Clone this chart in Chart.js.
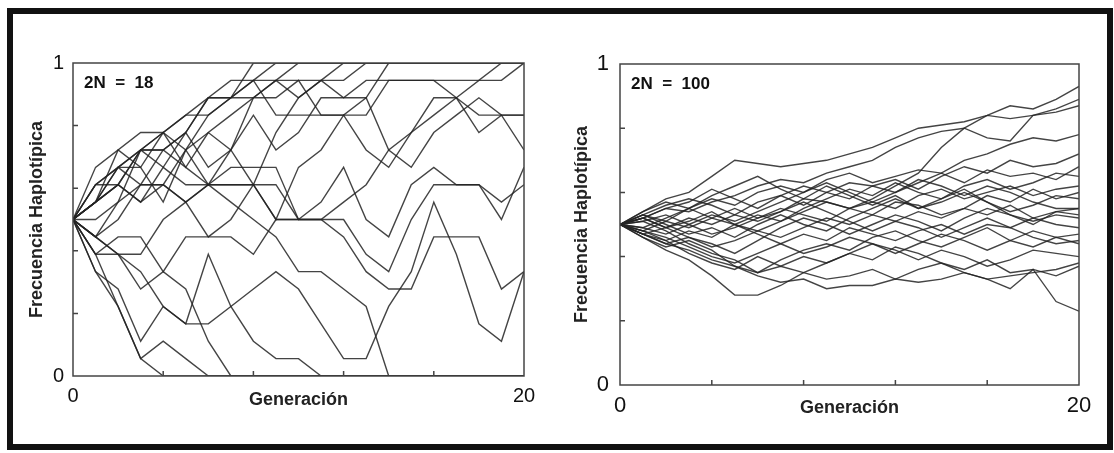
<!DOCTYPE html>
<html>
<head>
<meta charset="utf-8">
<script src="https://cdn.jsdelivr.net/npm/chart.js@4.4.1/dist/chart.umd.min.js"></script>
<style>
body { margin: 0; background: #fff; width: 1114px; height: 453px; overflow: hidden; position: relative; }
#frame { position: absolute; left: 7px; top: 8px; width: 1106px; height: 442px; box-sizing: border-box; border: 6px solid #111; }
#c1 { position: absolute; left: 14px; top: 20px; }
#c2 { position: absolute; left: 560px; top: 20px; }
</style>
</head>
<body>
<div id="frame"></div>
<canvas id="c1" width="540" height="420"></canvas>
<canvas id="c2" width="548" height="425"></canvas>
<script>
var FONT = "'Liberation Sans', Arial, sans-serif";

var generations = [0, 1, 2, 3, 4, 5, 6, 7, 8, 9, 10, 11, 12, 13, 14, 15, 16, 17, 18, 19, 20];
var xTickLabels = ["0", "20"];
var yTickLabels = ["0", "1"];
var minorX = [4, 8, 12, 16];
var minorY18 = [3.6, 7.2, 10.8, 14.4];   // 0.2 .. 0.8 of 2N = 18
var minorY100 = [20, 40, 60, 80];

// haplotype copies out of 2N = 18, one row per replicate
var runs18 = [
  [9, 11, 12, 13, 14, 15, 15, 16, 18, 18, 18, 18, 18, 18, 18, 18, 18, 18, 18, 18, 18],
  [9, 10, 11, 13, 13, 14, 16, 16, 17, 18, 18, 18, 18, 18, 18, 18, 18, 18, 18, 18, 18],
  [9, 12, 13, 12, 14, 12, 14, 15, 16, 17, 18, 18, 18, 18, 18, 18, 18, 18, 18, 18, 18],
  [9, 10, 13, 14, 14, 15, 16, 16, 16, 17, 16, 17, 18, 18, 18, 18, 18, 18, 18, 18, 18],
  [9, 10, 12, 12, 10, 13, 15, 16, 17, 17, 17, 17, 17, 18, 18, 18, 18, 18, 18, 18, 18],
  [9, 11, 11, 13, 14, 13, 11, 13, 16, 16, 17, 15, 15, 16, 18, 18, 18, 18, 18, 18, 18],
  [9, 8, 10, 11, 13, 14, 16, 17, 17, 15, 15, 15, 15, 15, 17, 17, 17, 17, 17, 18, 18],
  [9, 10, 11, 10, 12, 11, 11, 11, 11, 9, 9, 9, 10, 11, 13, 14, 15, 16, 17, 17, 18],
  [9, 11, 12, 13, 12, 14, 12, 13, 11, 14, 16, 17, 16, 16, 13, 12, 14, 15, 16, 15, 15],
  [9, 10, 12, 11, 11, 13, 14, 13, 15, 13, 14, 16, 16, 17, 17, 17, 17, 16, 15, 15, 15],
  [9, 8, 9, 11, 11, 10, 11, 11, 11, 9, 12, 13, 15, 13, 12, 14, 16, 16, 14, 15, 13],
  [9, 9, 10, 13, 13, 12, 11, 12, 12, 12, 9, 10, 12, 9, 8, 11, 12, 11, 11, 9, 12],
  [9, 8, 7, 7, 9, 10, 8, 9, 11, 11, 9, 9, 9, 7, 6, 9, 11, 11, 11, 10, 11],
  [9, 8, 7, 6, 4, 3, 3, 4, 5, 6, 5, 3, 1, 1, 4, 6, 10, 7, 3, 2, 6],
  [9, 7, 8, 8, 6, 8, 8, 8, 7, 9, 9, 9, 8, 6, 5, 5, 8, 8, 8, 5, 6],
  [9, 6, 4, 1, 0, 0, 0, 0, 0, 0, 0, 0, 0, 0, 0, 0, 0, 0, 0, 0, 0],
  [9, 7, 4, 1, 2, 1, 0, 0, 0, 0, 0, 0, 0, 0, 0, 0, 0, 0, 0, 0, 0],
  [9, 7, 7, 5, 6, 5, 2, 0, 0, 0, 0, 0, 0, 0, 0, 0, 0, 0, 0, 0, 0],
  [9, 6, 5, 2, 4, 3, 7, 4, 2, 1, 1, 0, 0, 0, 0, 0, 0, 0, 0, 0, 0],
  [9, 10, 11, 10, 11, 10, 11, 10, 9, 8, 6, 6, 5, 4, 0, 0, 0, 0, 0, 0, 0]
];

// haplotype copies out of 2N = 100
var runs100 = [
  [50, 54, 58, 60, 65, 70, 69, 68, 69, 70, 72, 74, 77, 80, 81, 82, 84, 87, 86, 89, 93],
  [50, 52, 55, 54, 57, 59, 62, 64, 63, 66, 68, 70, 74, 77, 79, 80, 77, 76, 84, 86, 89],
  [50, 48, 51, 49, 52, 55, 52, 54, 58, 57, 55, 58, 62, 66, 74, 80, 84, 83, 84, 85, 87],
  [50, 53, 51, 55, 58, 56, 60, 62, 60, 64, 66, 63, 65, 67, 66, 70, 72, 75, 77, 76, 78],
  [50, 47, 49, 52, 50, 53, 57, 59, 56, 60, 63, 62, 64, 61, 65, 68, 66, 70, 68, 69, 72],
  [50, 52, 55, 57, 61, 58, 55, 59, 62, 60, 58, 62, 60, 63, 66, 63, 67, 65, 66, 64, 68],
  [50, 48, 45, 48, 46, 50, 53, 51, 55, 58, 61, 59, 63, 60, 58, 62, 64, 61, 63, 66, 65],
  [50, 51, 53, 50, 47, 49, 52, 55, 53, 51, 55, 57, 55, 59, 61, 58, 60, 62, 59, 61, 62],
  [50, 49, 52, 55, 52, 50, 48, 51, 54, 57, 55, 53, 57, 56, 53, 55, 59, 57, 61, 58, 60],
  [50, 53, 50, 47, 49, 46, 50, 53, 50, 48, 52, 55, 58, 55, 57, 60, 57, 54, 56, 59, 58],
  [50, 47, 44, 46, 43, 45, 48, 46, 49, 52, 50, 53, 51, 54, 52, 55, 53, 56, 52, 54, 55],
  [50, 52, 49, 46, 44, 41, 45, 49, 52, 50, 47, 50, 53, 51, 48, 52, 55, 53, 51, 53, 52],
  [50, 48, 46, 43, 40, 38, 41, 44, 47, 45, 49, 47, 45, 48, 50, 47, 50, 49, 52, 50, 49],
  [50, 46, 43, 45, 42, 37, 35, 39, 42, 44, 42, 46, 48, 45, 43, 46, 49, 45, 48, 46, 47],
  [50, 52, 49, 51, 54, 50, 47, 44, 41, 43, 46, 44, 41, 44, 47, 45, 42, 45, 43, 46, 44],
  [50, 47, 45, 41, 38, 36, 40, 37, 40, 38, 41, 44, 42, 39, 42, 40, 37, 39, 42, 41, 40],
  [50, 46, 42, 39, 34, 28, 28, 31, 35, 38, 41, 39, 43, 41, 38, 36, 39, 35, 36, 34, 37],
  [50, 47, 44, 42, 39, 37, 34, 32, 33, 30, 31, 31, 33, 32, 33, 35, 33, 30, 36, 26, 23],
  [50, 51, 48, 44, 41, 39, 35, 37, 35, 33, 34, 36, 33, 36, 38, 35, 33, 34, 35, 36, 38],
  [50, 54, 57, 55, 59, 62, 65, 61, 58, 62, 59, 56, 59, 55, 58, 61, 57, 53, 50, 54, 53],
  [50, 53, 56, 58, 56, 53, 51, 54, 57, 54, 51, 48, 51, 49, 46, 49, 52, 49, 46, 44, 45],
  [50, 49, 47, 50, 53, 51, 54, 57, 60, 63, 60, 57, 60, 64, 62, 59, 62, 60, 57, 55, 55]
];

// box round the plot, inner ticks and the 2N label
var panelPlugin = {
  id: "panel",
  afterDatasetsDraw: function (chart, args, opts) {
    var a = chart.chartArea, c = chart.ctx;
    var xs = chart.scales.x, ys = chart.scales.y;
    c.save();
    c.strokeStyle = "#444";
    c.lineWidth = 1.5;
    c.strokeRect(a.left, a.top, a.right - a.left, a.bottom - a.top);
    c.beginPath();
    opts.minorX.forEach(function (v) {
      var px = xs.getPixelForValue(v);
      c.moveTo(px, a.bottom);
      c.lineTo(px, a.bottom - 5);
    });
    opts.minorY.forEach(function (v) {
      var py = ys.getPixelForValue(v);
      c.moveTo(a.left, py);
      c.lineTo(a.left + 5, py);
    });
    c.stroke();
    c.fillStyle = "#111";
    c.font = "bold 17px " + FONT;
    c.textBaseline = "alphabetic";
    c.fillText(opts.label, a.left + 11, a.top + 25);
    c.restore();
  }
};

function driftChart(id, runs, size, o) {
  var ctx = document.getElementById(id).getContext("2d");
  return new Chart(ctx, {
    type: "line",
    data: {
      labels: generations,
      datasets: runs.map(function (r) {
        return {
          data: r,
          fill: false,
          borderColor: "rgba(35,35,35,0.85)",
          borderWidth: 1.4,
          pointRadius: 0,
          tension: 0
        };
      })
    },
    options: {
      responsive: false,
      animation: false,
      events: [],
      layout: { padding: { left: 0, top: o.top, right: o.right, bottom: 0 } },
      plugins: {
        legend: { display: false },
        tooltip: { enabled: false },
        panel: { minorX: minorX, minorY: o.minorY, label: o.label }
      },
      scales: {
        x: {
          type: "linear",
          min: 0,
          max: 20,
          grid: { display: false, drawTicks: false },
          border: { display: false },
          afterBuildTicks: function (s) { s.ticks = [{ value: 0 }, { value: 20 }]; },
          afterFit: function (s) { s.height = o.xh; },
          ticks: {
            padding: o.xPad,
            maxRotation: 0,
            color: "#111",
            font: { family: FONT, size: o.numSize },
            callback: function (v, i) { return xTickLabels[i]; }
          },
          title: {
            display: true,
            text: "Generación",
            color: "#222",
            font: { family: FONT, size: 18, weight: "bold" },
            padding: { top: 0, bottom: o.xTitlePad }
          }
        },
        y: {
          min: 0,
          max: size,
          grid: { display: false, drawTicks: false },
          border: { display: false },
          afterBuildTicks: function (s) { s.ticks = [{ value: 0 }, { value: size }]; },
          afterFit: function (s) { s.width = o.yw; },
          ticks: {
            padding: o.yPad,
            color: "#111",
            font: { family: FONT, size: o.numSize },
            callback: function (v, i) { return yTickLabels[i]; }
          },
          title: {
            display: true,
            text: "Frecuencia Haplotípica",
            color: "#222",
            font: { family: FONT, size: 18, weight: "bold" },
            padding: { top: o.yTitlePad, bottom: 0 }
          }
        }
      }
    },
    plugins: [panelPlugin]
  });
}

var chartLeft = driftChart("c1", runs18, 18, {
  top: 43, right: 30, yw: 59, xh: 64, xPad: 8, yPad: 9, numSize: 20,
  xTitlePad: 29, yTitlePad: 12, minorY: minorY18, label: "2N  =  18"
});
var chartRight = driftChart("c2", runs100, 100, {
  top: 44, right: 29, yw: 60, xh: 60, xPad: 8, yPad: 11, numSize: 22,
  xTitlePad: 26, yTitlePad: 11, minorY: minorY100, label: "2N  =  100"
});
</script>
</body>
</html>
